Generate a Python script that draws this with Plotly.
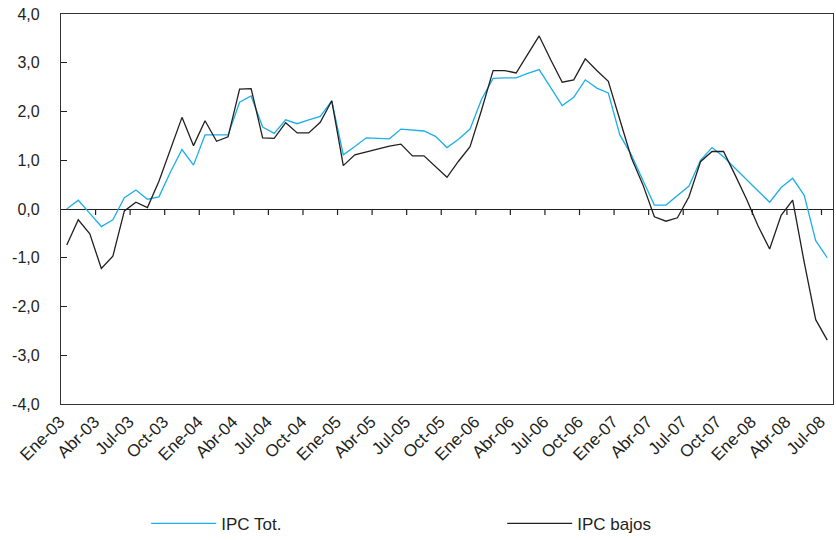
import plotly.graph_objects as go

meses = ["Ene", "Feb", "Mar", "Abr", "May", "Jun", "Jul", "Ago", "Sep", "Oct", "Nov", "Dic"]
periodos = [f"{meses[m]}-{y:02d}" for y in range(3, 9) for m in range(12)][:67]

ipc_tot = [0.00, 0.18, -0.09, -0.36, -0.22, 0.23, 0.39, 0.20, 0.25, 0.76, 1.22, 0.90,
           1.52, 1.52, 1.52, 2.19, 2.32, 1.68, 1.55, 1.83, 1.75, 1.83, 1.90, 2.22,
           1.11, 1.28, 1.46, 1.45, 1.44, 1.64, 1.62, 1.60, 1.49, 1.26, 1.43, 1.64,
           2.25, 2.68, 2.69, 2.69, 2.78, 2.86, 2.49, 2.12, 2.29, 2.65, 2.48, 2.38,
           1.52, 1.11, 0.59, 0.08, 0.08, 0.27, 0.47, 1.00, 1.26, 1.07, 0.83, 0.60,
           0.37, 0.14, 0.44, 0.63, 0.28, -0.65, -1.00]

ipc_bajos = [-0.74, -0.22, -0.51, -1.22, -0.97, -0.04, 0.14, 0.03, 0.57, 1.21, 1.88, 1.30,
             1.81, 1.39, 1.48, 2.46, 2.47, 1.46, 1.45, 1.77, 1.56, 1.56, 1.78, 2.22,
             0.89, 1.11, 1.17, 1.23, 1.29, 1.33, 1.09, 1.09, 0.87, 0.65, 0.98, 1.28,
             2.03, 2.84, 2.84, 2.79, 3.17, 3.55, 3.06, 2.60, 2.65, 3.08, 2.84, 2.62,
             1.83, 1.05, 0.50, -0.16, -0.25, -0.18, 0.25, 0.97, 1.18, 1.18, 0.70, 0.20,
             -0.35, -0.82, -0.13, 0.18, -1.09, -2.27, -2.69]

y_ticks = [-4, -3, -2, -1, 0, 1, 2, 3, 4]
y_ticktext = ["-4,0", "-3,0", "-2,0", "-1,0", "0,0", "1,0", "2,0", "3,0", "4,0"]

x_idx = list(range(len(periodos)))
label_idx = x_idx[::3]
label_txt = periodos[::3]

FONT = "Liberation Sans, Arial, sans-serif"
DARK = "#231F20"

fig = go.Figure()
fig.add_trace(go.Scatter(x=x_idx, y=ipc_tot, mode="lines", name="IPC Tot.",
                         line=dict(color="#1DAEE8", width=1.3)))
fig.add_trace(go.Scatter(x=x_idx, y=ipc_bajos, mode="lines", name="IPC bajos",
                         line=dict(color=DARK, width=1.3)))

# tick marks on the zero line, between categories every 3 months
for k in range(1, len(label_idx)):
    xb = label_idx[k] - 0.5
    fig.add_shape(type="line", xref="x", yref="y", x0=xb, x1=xb,
                  ysizemode="pixel", yanchor=0, y0=0, y1=-6,
                  line=dict(color=DARK, width=1.2))

fig.update_layout(
    width=836, height=540,
    margin=dict(l=61, r=3, t=14, b=136, autoexpand=False),
    paper_bgcolor="white", plot_bgcolor="white",
    font=dict(family=FONT, size=16, color=DARK),
    showlegend=True,
    legend=dict(orientation="h", x=0.1104, xanchor="left", y=-0.307, yanchor="middle",
                itemwidth=65, entrywidth=276, entrywidthmode="pixels",
                font=dict(family=FONT, size=17, color=DARK), bgcolor="rgba(0,0,0,0)"),
    xaxis=dict(range=[-0.5, len(x_idx) - 0.5], tickmode="array",
               tickvals=label_idx, ticklabelshift=-7,
               ticktext=label_txt, tickangle=-45, ticks="", showgrid=False,
               zeroline=False, showline=True, mirror=True, linecolor="#333333",
               linewidth=1.2, automargin=False,
               tickfont=dict(family=FONT, size=17, color=DARK)),
    yaxis=dict(range=[-4, 4], tickmode="array", tickvals=y_ticks, ticktext=y_ticktext,
               ticks="inside",
               ticklen=6, tickcolor=DARK, tickwidth=1.2, showgrid=False,
               zeroline=True, zerolinecolor=DARK, zerolinewidth=1.2,
               showline=True, mirror=True, linecolor="#333333", linewidth=1.2,
               automargin=False, ticklabelstandoff=17,
               tickfont=dict(family=FONT, size=16, color=DARK)),
)

fig.write_html("out.html", config={"displayModeBar": False},
               post_script="document.body.style.margin='0';document.body.style.overflow='hidden';")
